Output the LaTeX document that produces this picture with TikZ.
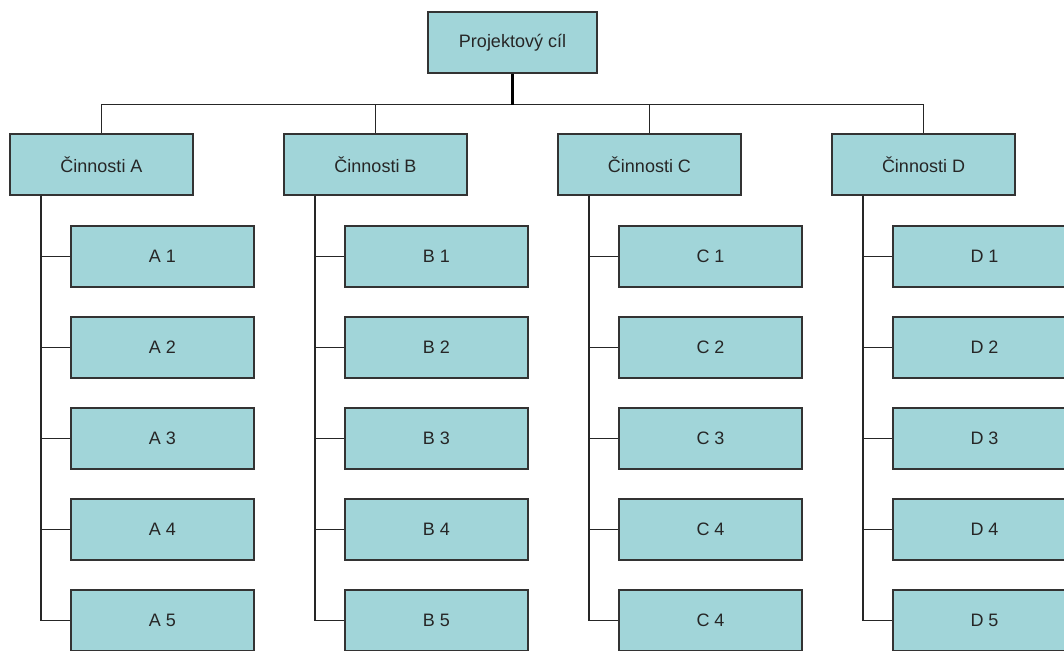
\documentclass[tikz,border=0pt]{standalone}
\usepackage{fontspec}
\setmainfont{Liberation Sans}
\begin{document}
\begin{tikzpicture}[x=1pt,y=-1pt,
  box/.style={draw=black!80, line width=1.4pt, fill=boxfill, minimum height=61pt, inner sep=0pt, font=\fontsize{18}{21}\selectfont, text=black!85},
  conn/.style={draw=black!85, line width=1.4pt},
  topconn/.style={draw=black, line width=2.2pt}]
\definecolor{boxfill}{RGB}{161,213,217}
\useasboundingbox (0,0) rectangle (1064,650);
\node[box, minimum width=169pt] (top) at (512.5,42.5) {Projektový cíl};
\foreach \c/\x in {A/101.5, B/375.5, C/649.5, D/923.5} {
  \node[box, minimum width=183pt] (cat\c) at (\x,164.5) {Činnosti \c};
  \draw[conn] (top.south) -- ++(0,31) -| (cat\c.north);
}
\draw[topconn] (top.south) -- ++(0,31);
\foreach \c/\x/\la/\lb/\lc/\ld/\le in {A/101.5/1/2/3/4/5, B/375.5/1/2/3/4/5, C/649.5/1/2/3/4/4, D/923.5/1/2/3/4/5} {
  \foreach \i/\lab/\y in {1/\la/256.5, 2/\lb/347.5, 3/\lc/438.5, 4/\ld/529.5, 5/\le/620.5} {
    \node[box, minimum width=183pt] (\c\i) at (\x+61,\y) {\c~\lab};
    \draw[conn] ([xshift=-60.5pt]cat\c.south) |- (\c\i.west);
  }
}
\end{tikzpicture}
\end{document}
